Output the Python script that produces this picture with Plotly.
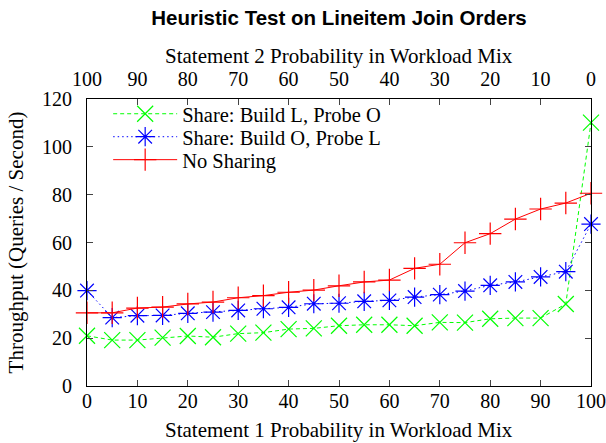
import plotly.graph_objects as go

x_vals = [0, 5, 10, 15, 20, 25, 30, 35, 40, 45, 50, 55, 60, 65, 70, 75, 80, 85, 90, 95, 100]
share_build_l = [21.0, 19.2, 19.2, 20.2, 20.9, 20.4, 21.9, 22.3, 23.8, 24.1, 25.2, 25.6, 25.6, 25.2, 26.6, 26.5, 28.1, 28.4, 28.4, 34.3, 110.1]
share_build_o = [39.9, 28.6, 29.4, 29.5, 30.4, 30.9, 31.6, 32.3, 32.9, 34.4, 34.6, 35.4, 35.8, 37.2, 38.2, 39.7, 42.1, 43.5, 45.6, 47.8, 67.7]
no_sharing = [30.6, 30.6, 32.6, 33.0, 34.3, 35.1, 36.9, 37.8, 39.2, 40.1, 41.9, 43.5, 44.3, 49.2, 50.9, 59.9, 63.7, 69.8, 74.0, 76.5, 80.6]
bottom_ticks = [0, 10, 20, 30, 40, 50, 60, 70, 80, 90, 100]
top_ticks = [100, 90, 80, 70, 60, 50, 40, 30, 20, 10, 0]
y_ticks = [0, 20, 40, 60, 80, 100, 120]

serif = "Liberation Serif, Times New Roman, serif"
TICK = 20
LAB = 21

fig = go.Figure()
fig.add_trace(go.Scatter(
    x=x_vals, y=share_build_l, name="Share: Build L, Probe O", mode="lines+markers",
    line=dict(color="#00ff00", width=1, dash="4px,3px"), legend="legend", cliponaxis=False,
    marker=dict(symbol="x-thin-open", size=16, line=dict(color="#00ff00", width=1.2), color="#00ff00")))
fig.add_trace(go.Scatter(
    x=x_vals, y=share_build_o, name="Share: Build O, Probe L", mode="lines+markers",
    line=dict(color="#0000ff", width=1, dash="1.5px,3px"), legend="legend2", cliponaxis=False,
    marker=dict(symbol="asterisk-open", size=16, line=dict(color="#0000ff", width=1.2), color="#0000ff")))
fig.add_trace(go.Scatter(
    x=x_vals, y=no_sharing, name="No Sharing", mode="lines+markers",
    line=dict(color="#ff0000", width=1), legend="legend3", cliponaxis=False,
    marker=dict(symbol="cross-thin-open", size=16, line=dict(color="#ff0000", width=1.2), color="#ff0000")))
# invisible trace to carry the top axis
fig.add_trace(go.Scatter(x=[100 - v for v in top_ticks], y=[None] * len(top_ticks), xaxis="x2",
                         mode="lines", showlegend=False, hoverinfo="skip"))

leg_common = dict(xanchor="left", yanchor="middle", bgcolor="rgba(0,0,0,0)",
                  itemwidth=64, font=dict(family=serif, size=20.5, color="black"))

fig.update_layout(
    width=606, height=443,
    paper_bgcolor="white", plot_bgcolor="white",
    margin=dict(l=87, r=15, t=99, b=57, autoexpand=False),
    font=dict(family=serif, size=TICK, color="black"),
    title=dict(text="<b>Heuristic Test on Lineitem Join Orders</b>",
               font=dict(family="Liberation Sans, Arial, sans-serif", size=20.5, color="black"),
               x=339 / 606, xanchor="center", y=1 - 17.5 / 443, yanchor="middle"),
    xaxis=dict(range=[0, 100], tickvals=bottom_ticks, ticks="inside", ticklen=6,
               showline=True, linecolor="black", linewidth=1, mirror=True,
               showgrid=False, zeroline=False, automargin=False, ticklabelstandoff=-3,
               tickfont=dict(size=TICK)),
    xaxis2=dict(range=[0, 100], overlaying="x", side="top", tickvals=[100 - v for v in top_ticks],
                ticktext=[str(v) for v in top_ticks], ticks="inside", ticklen=6,
                showline=False, showgrid=False, zeroline=False, automargin=False,
                ticklabelstandoff=8,
                tickfont=dict(size=TICK)),
    yaxis=dict(range=[0, 120], tickvals=y_ticks, ticks="inside", ticklen=6,
               showline=True, linecolor="black", linewidth=1, mirror="ticks",
               showgrid=False, zeroline=False, automargin=False, ticklabelstandoff=10,
               title=dict(text="Throughput (Queries / Second)", standoff=12,
                          font=dict(size=LAB)),
               tickfont=dict(size=TICK)),
    annotations=[
        dict(text="Statement 2 Probability in Workload Mix", xref="paper", yref="paper",
             x=0.5, y=1 + 43 / 287, xanchor="center", yanchor="middle",
             showarrow=False, font=dict(family=serif, size=LAB, color="black")),
        dict(text="Statement 1 Probability in Workload Mix", xref="paper", yref="paper",
             x=0.5, y=-44 / 287, xanchor="center", yanchor="middle",
             showarrow=False, font=dict(family=serif, size=LAB, color="black")),
    ],
    legend=dict(x=0.042, y=0.948, **leg_common),
    legend2=dict(x=0.042, y=0.868, **leg_common),
    legend3=dict(x=0.042, y=0.788, **leg_common),
    showlegend=True,
)

fig.write_html("out.html", post_script="document.body.style.margin='0';",
               config={"displayModeBar": False})
